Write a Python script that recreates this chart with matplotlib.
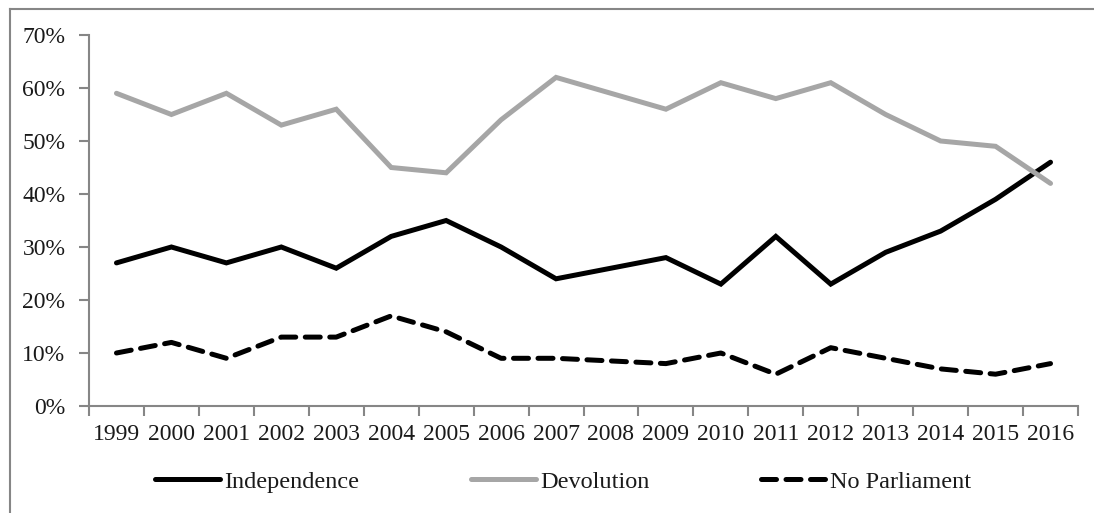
import matplotlib
matplotlib.use("Agg")
import matplotlib.pyplot as plt
from matplotlib.ticker import FuncFormatter, FixedLocator
from matplotlib.lines import Line2D

years = [str(y) for y in range(1999, 2017)]
independence = [27, 30, 27, 30, 26, 32, 35, 30, 24, 26, 28, 23, 32, 23, 29, 33, 39, 46]
devolution = [59, 55, 59, 53, 56, 45, 44, 54, 62, 59, 56, 61, 58, 61, 55, 50, 49, 42]
no_parliament = [10, 12, 9, 13, 13, 17, 14, 9, 9, 8.5, 8, 10, 6, 11, 9, 7, 6, 8]

plt.rcParams['font.family'] = ['Liberation Serif', 'DejaVu Serif']

fig = plt.figure(figsize=(10.94, 5.13), dpi=100)
ax = fig.add_axes([89/1094, 1-406/513, (1078-89)/1094, (406-35)/513])

x = list(range(len(years)))
lw = 3.6
ax.plot(x, independence, color='black', lw=lw, solid_joinstyle='miter', solid_capstyle='round', label='Independence')
ax.plot(x, devolution, color='#A6A6A6', lw=lw, solid_joinstyle='miter', solid_capstyle='round', label='Devolution')
ax.plot(x, no_parliament, color='black', lw=lw, dashes=(3.0, 1.9), dash_capstyle='round', label='No Parliament')

ax.set_xlim(-0.5, len(years) - 0.5)
ax.set_ylim(0, 70)
ax.set_yticks(range(0, 71, 10))
ax.yaxis.set_major_formatter(FuncFormatter(lambda v, p: f"{int(v)}%"))
ax.set_xticks(x)
ax.set_xticklabels(years)
ax.xaxis.set_minor_locator(FixedLocator([i - 0.5 for i in range(len(years) + 1)]))
ax.tick_params(axis='x', which='major', length=0, labelsize=17, pad=13, colors='#1a1a1a')
ax.tick_params(axis='x', which='minor', length=7, width=1.5, color='#868686', direction='out')
ax.tick_params(axis='y', which='major', length=7, width=1.5, color='#868686', labelsize=17, pad=10, labelcolor='#1a1a1a')

for s in ['top', 'right']:
    ax.spines[s].set_visible(False)
for s in ['left', 'bottom']:
    ax.spines[s].set_color('#868686')
    ax.spines[s].set_linewidth(1.5)

# figure border (left and top)
fig.add_artist(Line2D([9.5/1094, 9.5/1094], [0, 1 - 9/513], transform=fig.transFigure, color='#868686', lw=1.5))
fig.add_artist(Line2D([9.5/1094, 1.0], [1 - 9/513, 1 - 9/513], transform=fig.transFigure, color='#868686', lw=1.5))

handles, labels = ax.get_legend_handles_labels()
leg = fig.legend(handles, labels, loc='center', bbox_to_anchor=(563/1094, 1 - 482/513), ncol=3,
                 frameon=False, fontsize=17.5, handlelength=2.7, handletextpad=0.15, columnspacing=4.6)
for t in leg.get_texts():
    t.set_color('#1a1a1a')

fig.savefig('out.png', dpi=100)
